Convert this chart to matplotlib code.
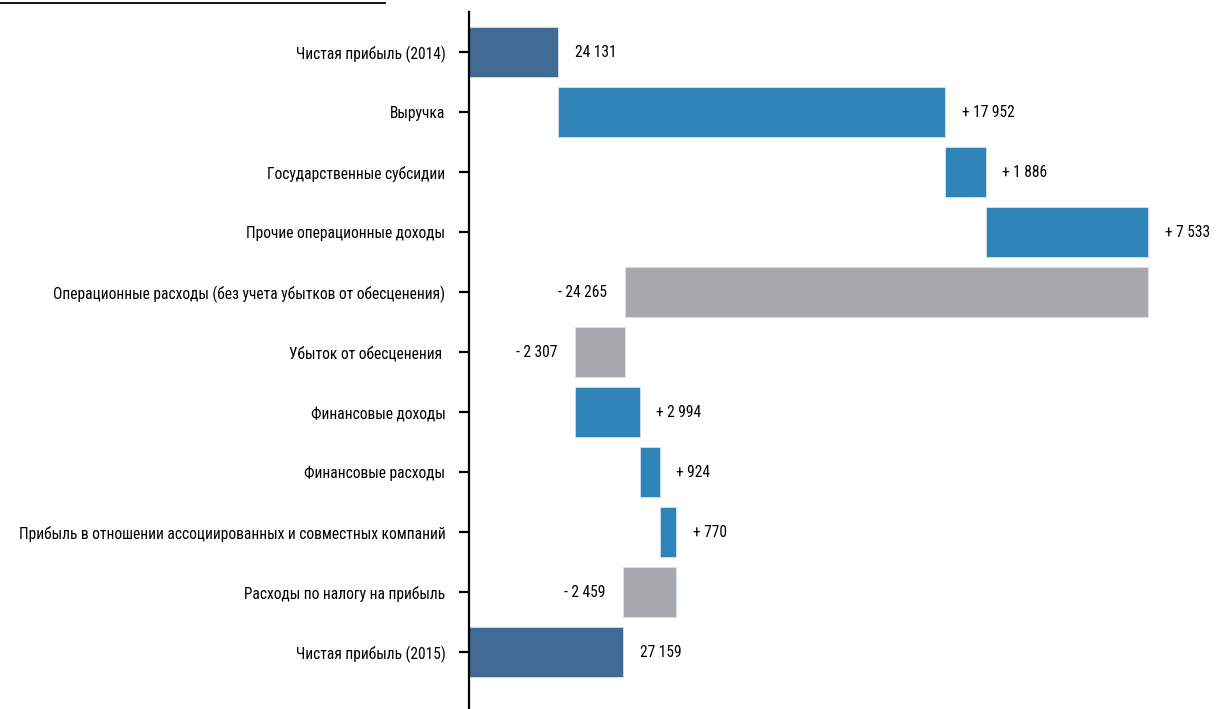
import numpy as np
import matplotlib.pyplot as plt
from matplotlib.lines import Line2D

plt.rcParams['font.family'] = ['Roboto Condensed', 'DejaVu Sans']
plt.rcParams['font.size'] = 11.2

# Waterfall data (млн руб.)
CATEGORIES = [
    "Чистая прибыль (2014)",
    "Выручка",
    "Государственные субсидии",
    "Прочие операционные доходы",
    "Операционные расходы (без учета убытков от обесценения)",
    "Убыток от обесценения ",
    "Финансовые доходы",
    "Финансовые расходы",
    "Прибыль в отношении ассоциированных и совместных компаний",
    "Расходы по налогу на прибыль",
    "Чистая прибыль (2015)",
]
DELTAS = [24131, 17952, 1886, 7533, -24265, -2307, 2994, 924, 770, -2459, 27159]
KINDS = ["total", "delta", "delta", "delta", "delta", "delta",
         "delta", "delta", "delta", "delta", "total"]
LABELS = ["24 131", "+ 17 952", "+ 1 886", "+ 7 533", "- 24 265", "- 2 307",
          "+ 2 994", "+ 924", "+ 770", "- 2 459", "27 159"]

X_START = 20000
COLOR_TOTAL = '#416a94'
COLOR_UP = '#2e84b8'
COLOR_DOWN = '#a8a9ad'


def main():
    fig = plt.figure(figsize=(12.19, 7.09), dpi=100)
    ax = fig.add_axes([469 / 1219, 0, 750 / 1219, 697 / 709])

    running = 0
    for i, (d, kind, lab) in enumerate(zip(DELTAS, KINDS, LABELS)):
        if kind == "total":
            left, right = X_START, d
            running = d
            color = COLOR_TOTAL
        else:
            left, right = sorted([running, running + d])
            running += d
            color = COLOR_UP if d > 0 else COLOR_DOWN
        ax.barh(i, right - left, left=left, height=0.83, color=color,
                edgecolor='#d6e2ee', linewidth=0.6)
        if kind == "delta" and d < 0:
            ax.annotate(lab, (left, i), xytext=(-13, 0), textcoords='offset points',
                        ha='right', va='center')
        else:
            ax.annotate(lab, (right, i), xytext=(12, 0), textcoords='offset points',
                        ha='left', va='center')

    ax.set_xlim(X_START, 54800)
    ax.set_ylim(10.95, -0.667)
    ax.set_yticks(np.arange(len(CATEGORIES)))
    ax.set_yticklabels(CATEGORIES)
    ax.set_xticks([])
    for side in ['top', 'right', 'bottom']:
        ax.spines[side].set_visible(False)
    ax.spines['left'].set_linewidth(1.6)
    ax.spines['left'].set_color('black')
    ax.tick_params(axis='y', length=7, width=1.6, pad=10, colors='black')

    # underline of the (cropped) heading at the top
    fig.add_artist(Line2D([0, 385 / 1219], [1 - 3 / 709, 1 - 3 / 709],
                          color='black', linewidth=1.3))

    fig.savefig("out.png", dpi=100)


main()
